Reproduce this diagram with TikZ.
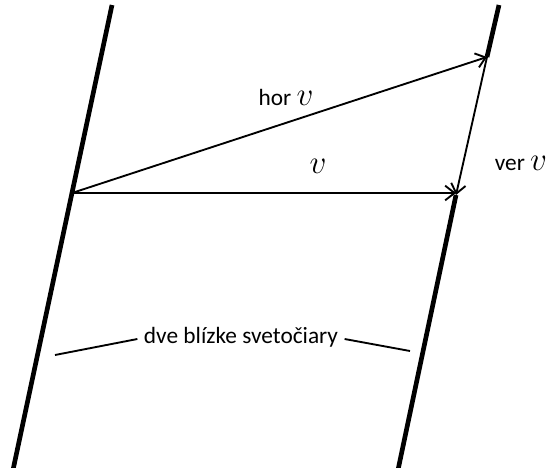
\documentclass[tikz,border=0pt]{standalone}
\usepackage{fontspec}
\setmainfont{Carlito}
\usetikzlibrary{positioning,arrows.meta}
\tikzset{
  worldline/.style={line width=3.5pt},
  velarrow/.style={line width=1.4pt,-{Straight Barb[length=7pt,width=11pt,line width=1.4pt]}},
  note/.style={line width=1.4pt},
  lbl/.style={inner sep=1pt,font=\fontsize{17.5}{20}\selectfont},
}
\newcommand{\vel}{{\fontsize{25}{28}\selectfont$v$}}
\begin{document}
\begin{tikzpicture}[x=0.75pt,y=-0.75pt]
\useasboundingbox (0,0) rectangle (547,468);
% svetociary
\coordinate (Ltop) at (112,5);
\coordinate (Lbot) at (13,470);
\coordinate (O) at (72,193);
\coordinate (Rtop) at (499,5);
\coordinate (Rhi) at (487,57);
\coordinate (Rlo) at (456,195);
\coordinate (Rbot) at (398,470);
\draw[worldline] (Ltop) -- (Lbot);
\draw[worldline] (Rtop) -- (Rhi);
\draw[worldline] (Rlo) -- (Rbot);
% rychlosti
\coordinate (Vend) at (456,193);
\draw[velarrow] (O) -- (Rhi);
\draw[velarrow] (O) -- (Vend);
\draw[velarrow] (Rhi) -- (Rlo);
\node[lbl] (hor) at (286,97) {hor \vel};
\node[lbl] (ver) at (521,163) {ver \vel};
\node[lbl] (v) at (318,166) {\vel};
% popis
\node[lbl] (dve) at (241,337) {dve blízke svetočiary};
\coordinate (nl) at (55,355);
\coordinate (nr) at (410,351);
\draw[note] (dve.west) ++(-5,2) coordinate (dw) -- (nl);
\draw[note] (dve.east) ++(5,2) coordinate (de) -- (nr);
\end{tikzpicture}
\end{document}
